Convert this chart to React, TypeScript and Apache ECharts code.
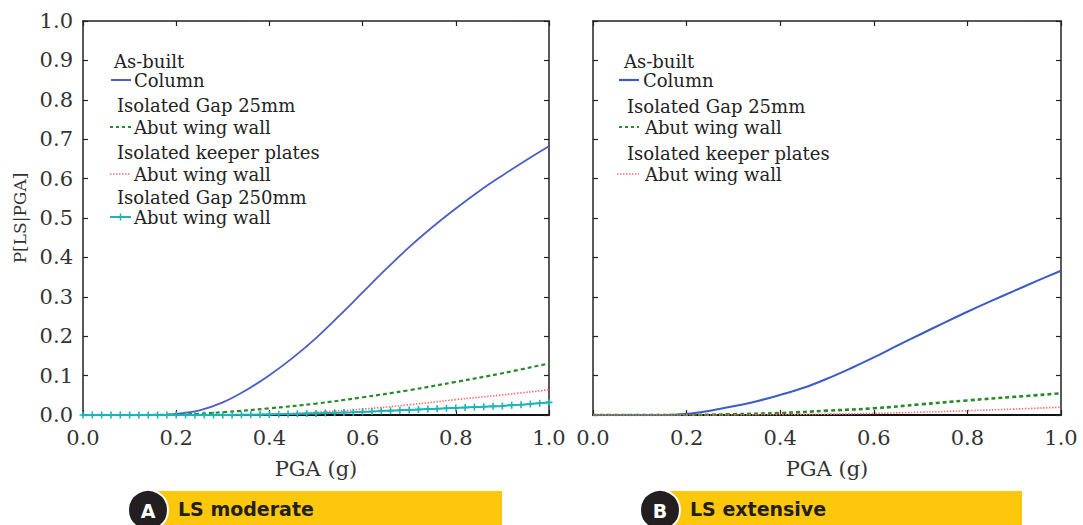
import React, { useEffect, useRef } from "react";
import * as echarts from "echarts";

// ---------- data ----------
const pgaCoarse = [0, 0.05, 0.1, 0.15, 0.2, 0.25, 0.3, 0.35, 0.4, 0.45, 0.5, 0.55, 0.6, 0.65, 0.7, 0.75, 0.8, 0.85, 0.9, 0.95, 1.0];
const pgaTenth = [0, 0.1, 0.2, 0.3, 0.4, 0.5, 0.6, 0.7, 0.8, 0.9, 1.0];
const pgaFine = [
  0, 0.02, 0.04, 0.06, 0.08, 0.1, 0.12, 0.14, 0.16, 0.18, 0.2, 0.22, 0.24, 0.26, 0.28, 0.3,
  0.32, 0.34, 0.36, 0.38, 0.4, 0.42, 0.44, 0.46, 0.48, 0.5, 0.52, 0.54, 0.56, 0.58, 0.6,
  0.62, 0.64, 0.66, 0.68, 0.7, 0.72, 0.74, 0.76, 0.78, 0.8, 0.82, 0.84, 0.86, 0.88, 0.9,
  0.92, 0.94, 0.96, 0.98, 1.0,
];

// Panel A: LS moderate
const modColumn = [0, 0, 0, 0, 0.003, 0.012, 0.032, 0.063, 0.101, 0.145, 0.195, 0.252, 0.311, 0.37, 0.426, 0.477, 0.524, 0.568, 0.608, 0.646, 0.682];
const modGap25 = [0, 0, 0.001, 0.007, 0.017, 0.029, 0.045, 0.063, 0.084, 0.106, 0.131];
const modKeeper = [0, 0, 0, 0.0005, 0.002, 0.007, 0.015, 0.026, 0.039, 0.051, 0.064];
const modGap250 = [
  0, 0, 0, 0, 0, 0, 0, 0, 0, 0, 0, 0, 0, 0, 0, 0,
  0.0003, 0.0005, 0.0008, 0.001, 0.0015, 0.002, 0.0025, 0.003, 0.0035, 0.004,
  0.0048, 0.0055, 0.0063, 0.007, 0.008, 0.009, 0.01, 0.011, 0.012, 0.013,
  0.014, 0.015, 0.016, 0.017, 0.018, 0.019, 0.02, 0.021, 0.022, 0.023,
  0.025, 0.026, 0.028, 0.03, 0.032,
];

// Panel B: LS extensive
const extColumn = [0, 0, 0, 0, 0.003, 0.011, 0.022, 0.035, 0.051, 0.069, 0.092, 0.118, 0.146, 0.176, 0.205, 0.234, 0.262, 0.289, 0.315, 0.341, 0.366];
const extGap25 = [0, 0, 0, 0.002, 0.005, 0.011, 0.017, 0.027, 0.037, 0.046, 0.055];
const extKeeper = [0, 0, 0, 0, 0.001, 0.002, 0.004, 0.007, 0.011, 0.015, 0.02];

const yTicks = ["0.0", "0.1", "0.2", "0.3", "0.4", "0.5", "0.6", "0.7", "0.8", "0.9", "1.0"];
const panelTitles = ["LS moderate", "LS extensive"];
const panelLetters = ["A", "B"];
const legendGroups = ["As-built", "Isolated Gap 25mm", "Isolated keeper plates", "Isolated Gap 250mm"];
const legendItems = ["Column", "Abut wing wall", "Abut wing wall", "Abut wing wall"];

const zip = (xs: number[], ys: number[]) => xs.map((x, i) => [x, ys[i]]);

const SERIF = "DejaVu Serif";
const C_BLUE = "#4a5ec4";
const C_GREEN = "#2a8a2a";
const C_RED = "#ff6f6f";
const C_CYAN = "#1fb3b8";

export default function App() {
  const ref = useRef<HTMLDivElement>(null);
  useEffect(() => {
    const chart = echarts.init(ref.current!, null, { renderer: "svg" });

    const grids = [
      { left: 83, top: 21, width: 466, height: 394 },
      { left: 593, top: 21, width: 468, height: 394 },
    ];

    const axisLine = { show: true, onZero: false, lineStyle: { color: "#222", width: 1.5 } };
    const tickIn = { show: true, inside: true, length: 5, lineStyle: { color: "#222", width: 1.2 } };

    const xAxes: any[] = [];
    const yAxes: any[] = [];
    grids.forEach((_, gi) => {
      xAxes.push({
        type: "value", gridIndex: gi, position: "bottom", min: 0, max: 1, interval: 0.2,
        axisLine: { show: true, onZero: false, lineStyle: { color: "#111", width: 2 } }, axisTick: tickIn, splitLine: { show: false },
        axisLabel: { fontFamily: SERIF, fontSize: 21, color: "#333", margin: 12, formatter: (v: number) => v.toFixed(1) },
        name: "PGA (g)", nameLocation: "middle", nameGap: 43,
        nameTextStyle: { fontFamily: SERIF, fontSize: 21, color: "#333" },
      });
      xAxes.push({
        type: "value", gridIndex: gi, position: "top", min: 0, max: 1, interval: 0.2,
        axisLine, axisTick: tickIn, axisLabel: { show: false }, splitLine: { show: false },
      });
      yAxes.push({
        type: "value", gridIndex: gi, position: "left", min: 0, max: 1, interval: 0.1,
        axisLine, axisTick: tickIn, splitLine: { show: false },
        axisLabel: gi === 0
          ? { fontFamily: SERIF, fontSize: 21, color: "#333", margin: 10, formatter: (v: number) => yTicks[Math.round(v * 10)] }
          : { show: false },
        name: gi === 0 ? "P[LS|PGA]" : "", nameLocation: "middle", nameGap: 55, nameRotate: 90,
        nameTextStyle: { fontFamily: SERIF, fontSize: 17, color: "#333" },
      });
      yAxes.push({
        type: "value", gridIndex: gi, position: "right", min: 0, max: 1, interval: 0.1,
        axisLine, axisTick: tickIn, axisLabel: { show: false }, splitLine: { show: false },
      });
    });

    const line = (name: string, data: number[][], xi: number, yi: number, color: string, type: any, width: number, extra: any = {}) => ({
      type: "line", name, data, xAxisIndex: xi, yAxisIndex: yi, smooth: 0.4,
      showSymbol: false, symbol: "none", lineStyle: { color, type, width }, itemStyle: { color }, z: 3, ...extra,
    });

    const series = [
      line("Column", zip(pgaCoarse, modColumn), 0, 0, C_BLUE, "solid", 1.8),
      line("Gap 25mm", zip(pgaTenth, modGap25), 0, 0, C_GREEN, [4, 3], 2.2),
      line("Keeper", zip(pgaTenth, modKeeper), 0, 0, C_RED, [1.5, 1.5], 1.6),
      line("Gap 250mm", zip(pgaFine, modGap250), 0, 0, C_CYAN, "solid", 2, {
        showSymbol: true, symbol: "path://M0,4H8M4,0V8", symbolSize: 7,
        itemStyle: { color: "none", borderColor: C_CYAN, borderWidth: 1.6 },
      }),
      line("Column B", zip(pgaCoarse, extColumn), 2, 2, "#3b5cc6", "solid", 2),
      line("Gap 25mm B", zip(pgaTenth, extGap25), 2, 2, C_GREEN, [4, 3], 2.6),
      line("Keeper B", zip(pgaTenth, extKeeper), 2, 2, C_RED, [1.5, 1.5], 1.6),
    ];

    // legend drawn as graphic
    const graphics: any[] = [];
    const txt = (x: number, y: number, text: string, extra: any = {}) => ({
      type: "text", x, y,
      style: { text, fontFamily: SERIF, fontSize: 18, fill: "#222", textVerticalAlign: "middle", textAlign: "left", ...extra },
    });
    const seg = (x1: number, x2: number, y: number, color: string, dash: any, width: number) => ({
      type: "line", shape: { x1, y1: y, x2, y2: y },
      style: { stroke: color, lineWidth: width, lineDash: dash },
    });

    const leftRows = [61, 80, 105, 127, 152, 174, 197, 217];
    const rightRows = [61, 80, 106, 127, 153, 174];
    // Panel A legend
    graphics.push(txt(114, leftRows[0], legendGroups[0]));
    graphics.push(seg(111, 131, leftRows[1], C_BLUE, null, 2));
    graphics.push(txt(134, leftRows[1], legendItems[0]));
    graphics.push(txt(117, leftRows[2], legendGroups[1]));
    graphics.push(seg(110, 131, leftRows[3], C_GREEN, [3, 3], 2));
    graphics.push(txt(134, leftRows[3], legendItems[1]));
    graphics.push(txt(117, leftRows[4], legendGroups[2]));
    graphics.push(seg(110, 131, leftRows[5], C_RED, [1.5, 1.5], 1.6));
    graphics.push(txt(134, leftRows[5], legendItems[2]));
    graphics.push(txt(117, leftRows[6], legendGroups[3]));
    graphics.push(seg(110, 131, leftRows[7], C_CYAN, null, 2));
    graphics.push({ type: "line", shape: { x1: 120.5, y1: leftRows[7] - 3.5, x2: 120.5, y2: leftRows[7] + 3.5 }, style: { stroke: C_CYAN, lineWidth: 1.5 } });
    graphics.push(txt(134, leftRows[7], legendItems[3]));
    // Panel B legend
    graphics.push(txt(624, rightRows[0], legendGroups[0]));
    graphics.push(seg(619, 639, rightRows[1], "#3b5cc6", null, 2.2));
    graphics.push(txt(643, rightRows[1], legendItems[0]));
    graphics.push(txt(627, rightRows[2], legendGroups[1]));
    graphics.push(seg(619, 639, rightRows[3], C_GREEN, [3, 3], 2));
    graphics.push(txt(645, rightRows[3], legendItems[1]));
    graphics.push(txt(627, rightRows[4], legendGroups[2]));
    graphics.push(seg(617, 639, rightRows[5], C_RED, [1.5, 1.5], 1.6));
    graphics.push(txt(645, rightRows[5], legendItems[2]));

    // Panel badges
    const badges = [
      { cx: 148, rx1: 158, rx2: 502, tx: 178 },
      { cx: 660, rx1: 670, rx2: 1022, tx: 690 },
    ];
    badges.forEach((b, i) => {
      graphics.push({ type: "rect", shape: { x: b.rx1, y: 491, width: b.rx2 - b.rx1, height: 40 }, style: { fill: "#fdc70c" }, z: 1 });
      graphics.push({ type: "circle", shape: { cx: b.cx, cy: 510, r: 20 }, style: { fill: "#231f20", stroke: "#ffffff", lineWidth: 2 }, z: 2 });
      graphics.push({
        type: "text", x: b.cx, y: 511, z: 3,
        style: { text: panelLetters[i], fontFamily: "DejaVu Sans", fontWeight: "bold", fontSize: 19, fill: "#fff", textAlign: "center", textVerticalAlign: "middle" },
      });
      graphics.push({
        type: "text", x: b.tx, y: 509, z: 3,
        style: { text: panelTitles[i], fontFamily: "DejaVu Sans", fontWeight: "bold", fontSize: 19, fill: "#231f20", textAlign: "left", textVerticalAlign: "middle" },
      });
    });

    chart.setOption({
      animation: false,
      backgroundColor: "#ffffff",
      grid: grids,
      xAxis: xAxes,
      yAxis: yAxes,
      series,
      graphic: graphics,
    });
    return () => chart.dispose();
  }, []);

  return <div ref={ref} style={{ position: "absolute", left: 0, top: 0, width: 1083, height: 525 }} />;
}
